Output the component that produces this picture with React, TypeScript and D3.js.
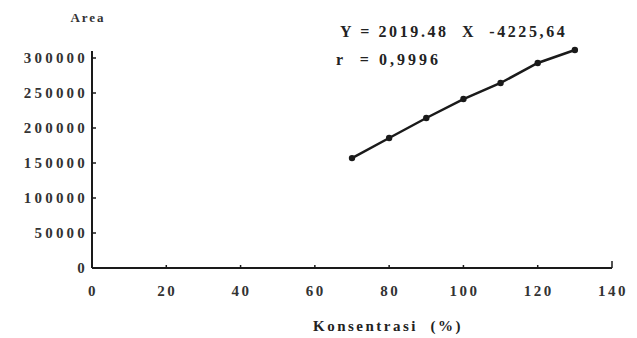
import React, { useRef, useEffect } from 'react';
import * as d3 from 'd3';

const konsentrasi = [70, 80, 90, 100, 110, 120, 130];
const area = [157000, 185700, 214300, 241400, 264300, 292900, 311400];
const xTicks = [0, 20, 40, 60, 80, 100, 120, 140];
const yTicks = [0, 50000, 100000, 150000, 200000, 250000, 300000];
const equationText = 'Y = 2019.48  X  -4225,64';
const rText = 'r  = 0,9996';

const W = 637;
const H = 338;
const font = '"Liberation Serif", "DejaVu Serif", serif';

const App = () => {
  const svgRef = useRef<SVGSVGElement>(null);

  useEffect(() => {
    const svg = d3.select(svgRef.current);
    svg.selectAll('*').remove();

    const x = d3.scaleLinear().domain([0, 140]).range([92, 612]);
    const y = d3.scaleLinear().domain([0, 300000]).range([268, 58]);
    const ink = '#1a1a1a';

    // axes
    svg.append('line')
      .attr('x1', x(0)).attr('x2', x(140))
      .attr('y1', y(0)).attr('y2', y(0))
      .attr('stroke', ink).attr('stroke-width', 2);
    svg.append('line')
      .attr('x1', x(0)).attr('x2', x(0))
      .attr('y1', y(0)).attr('y2', y(310000))
      .attr('stroke', ink).attr('stroke-width', 2);

    // x ticks + labels
    svg.selectAll('.xt')
      .data(xTicks)
      .enter().append('line')
      .attr('x1', d => x(d)).attr('x2', d => x(d))
      .attr('y1', y(0)).attr('y2', d => (d === 140 ? y(0) - 7 : y(0) - 3))
      .attr('stroke', ink).attr('stroke-width', 1.5);
    svg.selectAll('.xl')
      .data(xTicks)
      .enter().append('text')
      .attr('x', d => x(d) + 1)
      .attr('y', y(0) + 28)
      .attr('text-anchor', 'middle')
      .style('font-family', font)
      .style('font-size', '15px')
      .style('font-weight', 'bold')
      .style('letter-spacing', '2.5px')
      .style('fill', '#333')
      .text(d => d);

    // y ticks + labels
    svg.selectAll('.yt')
      .data(yTicks)
      .enter().append('line')
      .attr('x1', x(0)).attr('x2', x(0) + 4)
      .attr('y1', d => y(d)).attr('y2', d => y(d))
      .attr('stroke', ink).attr('stroke-width', 1.5);
    svg.selectAll('.yl')
      .data(yTicks)
      .enter().append('text')
      .attr('x', x(0) - 4)
      .attr('y', d => y(d) + 5)
      .attr('text-anchor', 'end')
      .style('font-family', font)
      .style('font-size', '15px')
      .style('font-weight', 'bold')
      .style('letter-spacing', '3.2px')
      .style('fill', '#333')
      .text(d => d);

    // axis titles
    svg.append('text')
      .attr('x', 88).attr('y', 22)
      .attr('text-anchor', 'middle')
      .style('font-family', font).style('font-size', '13px').style('font-weight', 'bold')
      .style('letter-spacing', '2px')
      .style('fill', '#333')
      .text('Area');
    svg.append('text')
      .attr('x', 388).attr('y', 331)
      .attr('text-anchor', 'middle')
      .style('font-family', font).style('font-size', '15px').style('font-weight', 'bold')
      .style('letter-spacing', '2.5px')
      .style('white-space', 'pre')
      .style('fill', '#222')
      .text('Konsentrasi  (%)');

    // series
    const pts = konsentrasi.map((k, i) => [k, area[i]] as [number, number]);
    const line = d3.line<[number, number]>().x(d => x(d[0])).y(d => y(d[1]));
    svg.append('path')
      .attr('d', line(pts))
      .attr('fill', 'none')
      .attr('stroke', ink)
      .attr('stroke-width', 2.5);
    svg.selectAll('.pt')
      .data(pts)
      .enter().append('circle')
      .attr('cx', d => x(d[0]))
      .attr('cy', d => y(d[1]))
      .attr('r', 3.2)
      .attr('fill', ink);

    // regression annotation
    svg.append('text')
      .attr('x', 340).attr('y', 37)
      .style('font-family', font).style('font-size', '16px').style('font-weight', 'bold')
      .style('letter-spacing', '2.6px')
      .style('fill', '#222')
      .style('white-space', 'pre')
      .text(equationText);
    svg.append('text')
      .attr('x', 336).attr('y', 65)
      .style('font-family', font).style('font-size', '16px').style('font-weight', 'bold')
      .style('letter-spacing', '3px')
      .style('fill', '#222')
      .style('white-space', 'pre')
      .text(rText);
  }, []);

  return (
    <div style={{ position: 'absolute', left: 0, top: 0, background: '#fff' }}>
      <svg ref={svgRef} width={W} height={H}></svg>
    </div>
  );
};

export default App;
